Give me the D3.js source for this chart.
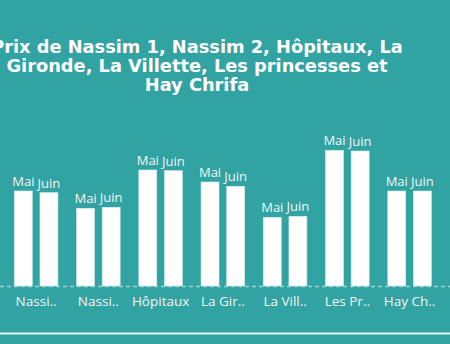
<!DOCTYPE html>
<html><head><meta charset="utf-8">
<script src="https://cdn.jsdelivr.net/npm/d3@7"></script>
<style>
html,body{margin:0;padding:0;background:#31a3a3;overflow:hidden}
svg{display:block}
</style></head><body>
<script>
const categories = ["Nassim 1","Nassim 2","Hôpitaux","La Gironde","La Villette","Les princesses","Hay Chrifa"];
const tickLabels = ["Nassi..","Nassi..","Hôpitaux","La Gir..","La Vill..","Les Pr..","Hay Ch.."];
const seriesNames = ["Mai","Juin"];
const maiValues = [95, 77.7, 116, 104, 68.7, 135.7, 95];
const juinValues = [93.3, 78.7, 115.3, 99.7, 69.7, 135, 95];
const titleLines = ["Prix de Nassim 1, Nassim 2, Hôpitaux, La","Gironde, La Villette, Les princesses et","Hay Chrifa"];

const W = 450, H = 344;
const bg = "#31a3a3";
const svg = d3.select("body").append("svg").attr("width", W).attr("height", H);
svg.append("rect").attr("width", W).attr("height", H).attr("fill", bg);

// title
const title = svg.append("text")
  .attr("text-anchor", "middle")
  .attr("font-family", "'DejaVu Sans', sans-serif")
  .attr("font-weight", 700)
  .attr("font-size", 17.8)
  .attr("fill", "#ffffff");
titleLines.forEach((t, i) => {
  title.append("tspan").attr("x", 197).attr("y", 53 + i * 19).text(t);
});

const baseY = 286;
const x0 = d3.scaleBand().domain(categories).range([5, 440.7]).paddingInner(0.3).paddingOuter(0.15);
const x1 = d3.scaleBand().domain(seriesNames).range([0, x0.bandwidth()]).paddingInner(0.3);
const y = d3.scaleLinear().domain([0, 140]).range([baseY, baseY - 140]);

const data = categories.map((c, i) => ({cat: c, vals: [{s: "Mai", v: maiValues[i]}, {s: "Juin", v: juinValues[i]}]}));

const g = svg.append("g");
const groups = g.selectAll("g.grp").data(data).join("g")
  .attr("class", "grp")
  .attr("transform", d => `translate(${x0(d.cat)},0)`);

groups.selectAll("rect").data(d => d.vals).join("rect")
  .attr("x", d => x1(d.s))
  .attr("y", d => y(d.v))
  .attr("width", x1.bandwidth())
  .attr("height", d => baseY - y(d.v))
  .attr("fill", "#ffffff")
  .attr("stroke", "#d8eeee")
  .attr("stroke-width", 0.6);

groups.selectAll("text.lbl").data(d => d.vals).join("text")
  .attr("class", "lbl")
  .attr("x", d => x1(d.s) + x1.bandwidth() / 2)
  .attr("y", d => y(d.v) - 5)
  .attr("text-anchor", "middle")
  .attr("font-family", "'Open Sans', 'Noto Sans', sans-serif")
  .attr("font-size", 13)
  .attr("fill", "#f4f4f4")
  .text(d => d.s);

// dashed baseline
svg.append("line")
  .attr("x1", 0).attr("x2", W)
  .attr("y1", baseY + 0.5).attr("y2", baseY + 0.5)
  .attr("stroke", "#9fd3d3").attr("stroke-width", 1.5)
  .attr("stroke-dasharray", "4,3");

// x axis
const xAxis = d3.axisBottom(x0).tickSize(0).tickPadding(9)
  .tickFormat((d, i) => tickLabels[i]);
const ax = svg.append("g").attr("transform", `translate(0,${baseY + 1})`).call(xAxis);
ax.select(".domain").remove();
ax.selectAll("text")
  .attr("font-family", "'Open Sans', 'Noto Sans', sans-serif")
  .attr("font-size", 13.5)
  .attr("fill", "#f4f4f4");

// bottom rule
svg.append("line")
  .attr("x1", 0).attr("x2", W)
  .attr("y1", 333.5).attr("y2", 333.5)
  .attr("stroke", "#eaf6f6").attr("stroke-width", 2);
</script>
</body></html>
